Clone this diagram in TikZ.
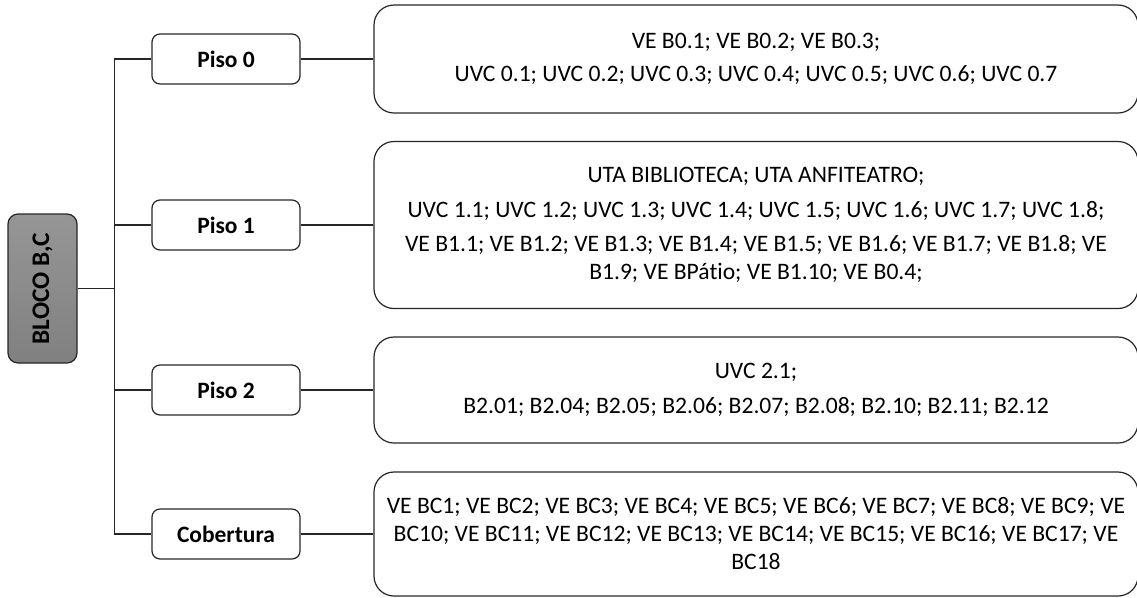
\documentclass[tikz,border=0pt]{standalone}
\usepackage{fontspec}
\setmainfont[Ligatures=NoCommon]{Carlito}
\begin{document}
\begin{tikzpicture}[x=0.75pt,y=-0.75pt,
  line/.style={draw=black!85,line width=1pt},
  bigbox/.style={draw=black!85,line width=0.9pt,rounded corners=15pt,minimum width=573pt,inner sep=0pt,align=center,
    font=\fontsize{17.7}{21}\selectfont},
  floor/.style={draw=black!85,line width=0.9pt,rounded corners=6pt,minimum width=111pt,minimum height=37.5pt,inner sep=0pt,
    font=\fontsize{17.6}{21}\selectfont\bfseries},
  rootbox/.style={draw=black!85,line width=0.9pt,rounded corners=7.5pt,rotate=90,minimum width=111.75pt,minimum height=51.75pt,
    inner sep=0pt,top color={rgb,255:red,150;green,150;blue,150},bottom color={rgb,255:red,128;green,128;blue,128},
    font=\fontsize{19}{22}\selectfont\bfseries}]
\useasboundingbox (0,0) rectangle (1137,597);

\node[rootbox] (bloco) at (42.5,288.5) {BLOCO B,C};

\node[floor] (p0) at (226,59) {Piso 0};
\node[floor] (p1) at (226,225) {Piso 1};
\node[floor] (p2) at (226,390) {Piso 2};
\node[floor] (p3) at (226,534) {Cobertura};

\node[bigbox,minimum height=81pt] (b0) at (756,59) {VE B0.1; VE B0.2; VE B0.3;\\[4pt]
UVC 0.1; UVC 0.2; UVC 0.3; UVC 0.4; UVC 0.5; UVC 0.6; UVC 0.7};
\node[bigbox,minimum height=125.25pt] (b1) at (756,225) {UTA BIBLIOTECA; UTA ANFITEATRO;\\[5pt]
UVC 1.1; UVC 1.2; UVC 1.3; UVC 1.4; UVC 1.5; UVC 1.6; UVC 1.7; UVC 1.8;\\[5pt]
VE B1.1; VE B1.2; VE B1.3; VE B1.4; VE B1.5; VE B1.6; VE B1.7; VE B1.8; VE\\
B1.9; VE BPátio; VE B1.10; VE B0.4;};
\node[bigbox,minimum height=79.5pt] (b2) at (756,390) {UVC 2.1;\\[5pt]
B2.01; B2.04; B2.05; B2.06; B2.07; B2.08; B2.10; B2.11; B2.12};
\node[bigbox,minimum height=93pt] (b3) at (756,534) {VE BC1; VE BC2; VE BC3; VE BC4; VE BC5; VE BC6; VE BC7; VE BC8; VE BC9; VE\\
BC10; VE BC11; VE BC12; VE BC13; VE BC14; VE BC15; VE BC16; VE BC17; VE\\
BC18};

\coordinate (tx) at (114.5,0);
\draw[line] (p0.west) -- (p0.west -| tx) -- (p3.west -| tx) -- (p3.west);
\draw[line] (bloco.south) -- (bloco.south -| tx);
\draw[line] (p1.west) -- (p1.west -| tx);
\draw[line] (p2.west) -- (p2.west -| tx);
\draw[line] (p0.east) -- (b0.west);
\draw[line] (p1.east) -- (b1.west);
\draw[line] (p2.east) -- (b2.west);
\draw[line] (p3.east) -- (b3.west);
\end{tikzpicture}
\end{document}
